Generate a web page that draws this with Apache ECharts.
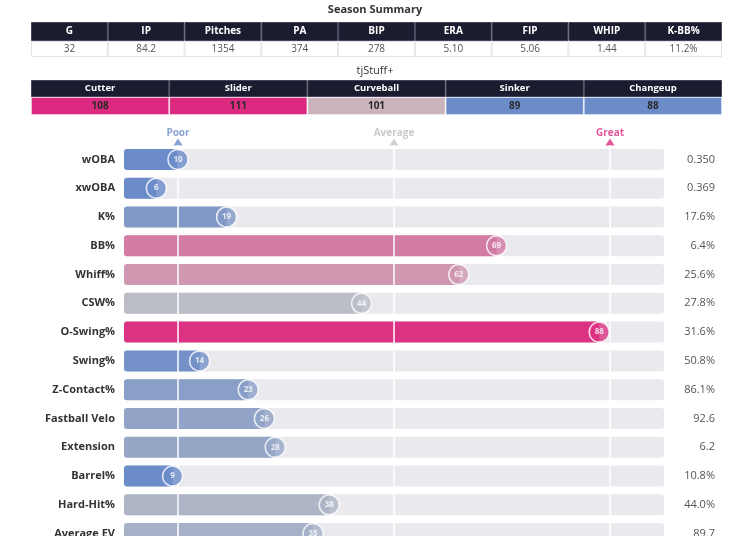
<!DOCTYPE html>
<html>
<head>
<meta charset="utf-8">
<script src="https://cdn.jsdelivr.net/npm/echarts@6/dist/echarts.min.js"></script>
<style>
  html, body { margin: 0; padding: 0; background: #fff; }
  #chart { width: 750px; height: 536px; }
</style>
</head>
<body>
<div id="chart"></div>
<script>
// season summary table
var summaryCols = ['G', 'IP', 'Pitches', 'PA', 'BIP', 'ERA', 'FIP', 'WHIP', 'K-BB%'];
var summaryVals = ['32', '84.2', '1354', '374', '278', '5.10', '5.06', '1.44', '11.2%'];
// tjStuff+ table
var pitchTypes = ['Cutter', 'Slider', 'Curveball', 'Sinker', 'Changeup'];
var stuffVals = [108, 111, 101, 89, 88];
// percentile rows
var metrics = ['wOBA', 'xwOBA', 'K%', 'BB%', 'Whiff%', 'CSW%', 'O-Swing%', 'Swing%',
  'Z-Contact%', 'Fastball Velo', 'Extension', 'Barrel%', 'Hard-Hit%', 'Average EV'];
var pctiles = [10, 6, 19, 69, 62, 44, 88, 14, 23, 26, 28, 9, 38, 35];
var statVals = ['0.350', '0.369', '17.6%', '6.4%', '25.6%', '27.8%', '31.6%', '50.8%',
  '86.1%', '92.6', '6.2', '10.8%', '44.0%', '89.7'];
// guide marks on top
var guideNames = ['Poor', 'Average', 'Great'];
var guidePos = [10, 50, 90];

var FONT = 'Open Sans';
var BLUE = [107, 139, 201], GREY = [201, 199, 197], PINK = [220, 42, 128];

// percentile -> colour (blue <=10, grey at 50, pink >=90)
function pctColor (p) {
  var a, b, t;
  if (p <= 50) { a = BLUE; b = GREY; t = (p - 10) / 40; }
  else { a = GREY; b = PINK; t = (p - 50) / 40; }
  t = Math.max(0, Math.min(1, t));
  var c = a.map(function (v, i) { return Math.round(v + (b[i] - v) * t); });
  return 'rgb(' + c.join(',') + ')';
}
function stuffColor (v) { return pctColor(50 + (v - 100) * 5); }

const myChart = echarts.init(document.getElementById('chart'));

// one table row = one grid with a category x axis
var grids = [
  { left: 31, right: 28, top: 22, height: 19 },
  { left: 31, right: 28, top: 41, height: 16 },
  { left: 31, right: 28, top: 80, height: 17 },
  { left: 31, right: 28, top: 97, height: 18 },
  { left: 124, right: 86, top: 138, height: 10 },
  // last row runs off the bottom of the page, as in the original
  { left: 124, right: 86, top: 145, height: 403 }
].map(function (g) { g.outerBoundsMode = 'none'; return g; });

function tableX (idx, cats) {
  return { gridIndex: idx, type: 'category', data: cats, show: false };
}
function tableY (idx) {
  return { gridIndex: idx, type: 'value', min: 0, max: 1, show: false };
}
function tableRow (idx, cats, fill, border, labelFn, textStyle) {
  return {
    type: 'bar', xAxisIndex: idx, yAxisIndex: idx, barCategoryGap: '0%', silent: true,
    data: cats.map(function (c, i) {
      return { value: 1, itemStyle: { color: typeof fill === 'function' ? fill(i) : fill } };
    }),
    itemStyle: { borderColor: border, borderWidth: 1 },
    label: Object.assign({
      show: true, position: 'inside', fontFamily: FONT,
      formatter: function (p) { return labelFn(p.dataIndex); }
    }, textStyle)
  };
}

const option = {
  animation: false,
  title: [
    { text: 'Season Summary', left: 'center', top: -1,
      textStyle: { fontFamily: FONT, fontSize: 11, fontWeight: 'bold', color: '#333' } },
    { text: 'tjStuff+', left: 'center', top: 60,
      textStyle: { fontFamily: FONT, fontSize: 11, fontWeight: 'normal', color: '#333' } }
  ],
  grid: grids,
  xAxis: [
    tableX(0, summaryCols), tableX(1, summaryCols), tableX(2, pitchTypes), tableX(3, pitchTypes),
    { gridIndex: 4, type: 'value', min: 0, max: 100, show: false },
    { gridIndex: 5, type: 'value', min: 0, max: 100, show: false }
  ],
  yAxis: [
    tableY(0), tableY(1), tableY(2), tableY(3),
    { gridIndex: 4, type: 'value', min: 0, max: 1, show: false },
    {
      gridIndex: 5, type: 'category', data: metrics, inverse: true,
      axisLine: { show: false }, axisTick: { show: false },
      axisLabel: { margin: 9, fontFamily: FONT, fontSize: 11, fontWeight: 'bold', color: '#333' }
    },
    {
      gridIndex: 5, type: 'category', data: statVals, inverse: true, position: 'right',
      axisLine: { show: false }, axisTick: { show: false },
      axisLabel: { margin: 51, align: 'right', fontFamily: FONT, fontSize: 11, color: '#555' }
    }
  ],
  series: [
    tableRow(0, summaryCols, '#1c1c30', '#44445a',
      function (i) { return summaryCols[i]; },
      { color: '#fff', fontSize: 10, fontWeight: 'bold' }),
    tableRow(1, summaryCols, '#fff', '#e4e4e4',
      function (i) { return summaryVals[i]; },
      { color: '#555', fontSize: 10 }),
    tableRow(2, pitchTypes, '#1c1c30', '#44445a',
      function (i) { return pitchTypes[i]; },
      { color: '#fff', fontSize: 9.5, fontWeight: 'bold' }),
    tableRow(3, pitchTypes, function (i) { return stuffColor(stuffVals[i]); }, 'rgba(255,255,255,0.4)',
      function (i) { return stuffVals[i]; },
      { color: '#2a2a2a', fontSize: 10, fontWeight: 'bold' }),
    // Poor / Average / Great markers
    {
      type: 'scatter', xAxisIndex: 4, yAxisIndex: 4, silent: true,
      symbol: 'triangle', symbolSize: [9, 7],
      data: guideNames.map(function (n, i) {
        var col = i === 0 ? '#6b8bc9' : (i === 1 ? '#c4c4c4' : '#dc2a80');
        return {
          name: n, value: [guidePos[i], 0.6],
          itemStyle: { color: col },
          label: { color: i === 1 ? '#bdbdbd' : col }
        };
      }),
      label: {
        show: true, position: 'top', distance: 0, formatter: '{b}',
        fontFamily: FONT, fontSize: 10, fontWeight: 'bold'
      }
    },
    // percentile bars
    {
      type: 'bar', xAxisIndex: 5, yAxisIndex: 5, barWidth: 21, z: 2, silent: true,
      showBackground: true,
      backgroundStyle: { color: '#e9e9ee', borderRadius: 3 },
      itemStyle: { borderRadius: 3 },
      data: pctiles.map(function (v) { return { value: v, itemStyle: { color: pctColor(v) } }; }),
      markLine: {
        silent: true, symbol: 'none', label: { show: false },
        lineStyle: { color: '#fff', width: 1.5, type: 'solid' },
        data: guidePos.map(function (p) { return { xAxis: p }; })
      }
    },
    // percentile circles
    {
      type: 'scatter', xAxisIndex: 5, yAxisIndex: 5, z: 10, silent: true,
      symbolSize: 20,
      data: pctiles.map(function (v, i) {
        return { value: [v, metrics[i]], itemStyle: { color: pctColor(v) } };
      }),
      itemStyle: { borderColor: '#fff', borderWidth: 1.5 },
      label: {
        show: true, position: 'inside', fontFamily: FONT, fontSize: 8, fontWeight: 'bold', color: '#fff',
        formatter: function (p) { return p.value[0]; }
      }
    }
  ]
};
myChart.setOption(option);
window.addEventListener('resize', function () {
  myChart.resize();
});
</script>
</body>
</html>
